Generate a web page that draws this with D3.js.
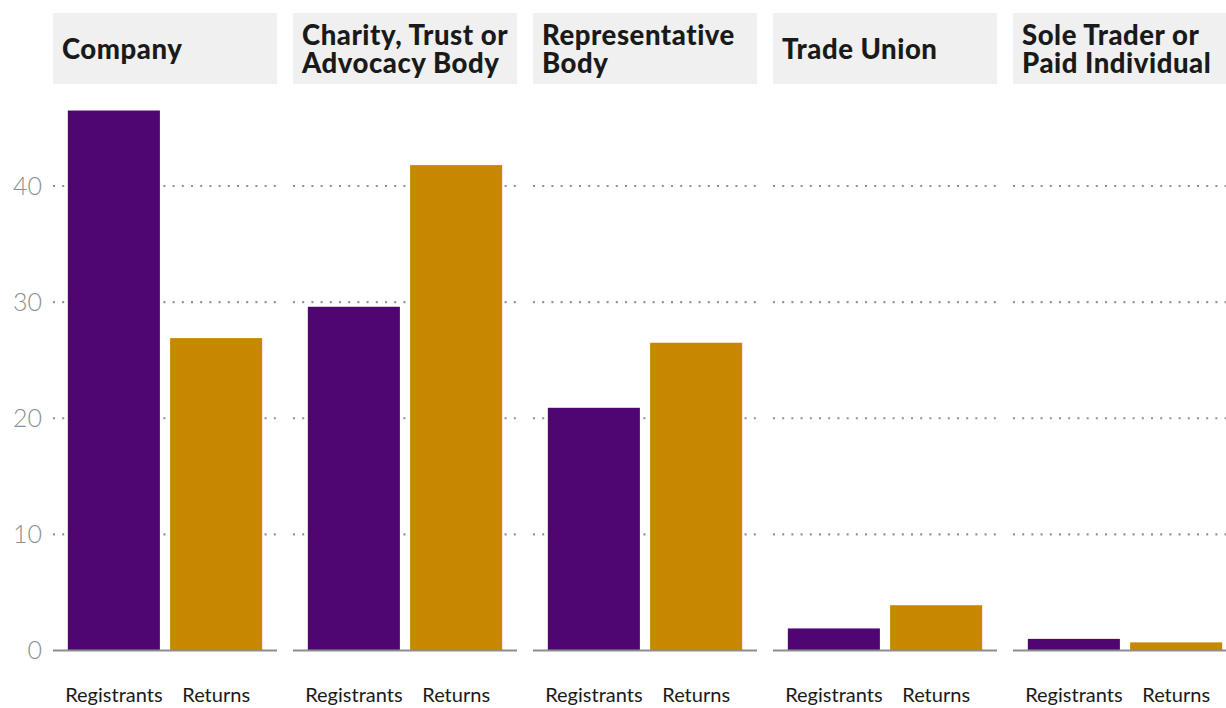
<!DOCTYPE html>
<html>
<head>
<meta charset="utf-8">
<script src="https://cdn.jsdelivr.net/npm/d3@7"></script>
<style>
  html, body { margin: 0; padding: 0; background: #fff; }
  svg { display: block; }
</style>
</head>
<body>
<svg id="chart" width="1226" height="708"></svg>
<script>
const facets = [
  ["Company"],
  ["Charity, Trust or", "Advocacy Body"],
  ["Representative", "Body"],
  ["Trade Union"],
  ["Sole Trader or", "Paid Individual"]
];
const measures = ["Registrants", "Returns"];
const registrants = [46.5, 29.6, 20.9, 1.9, 1.0];
const returns = [26.9, 41.8, 26.5, 3.9, 0.7];
const yTicks = [0, 10, 20, 30, 40];
const colors = ["#4f0672", "#c78700"];

const svg = d3.select("#chart");
const panelW = 224, panelStep = 240, left = 53;
const headerTop = 13, headerH = 71;

const y = d3.scaleLinear().domain([0, 40]).range([650.5, 186]);
const x = d3.scaleBand().domain(measures).range([0, panelW]).paddingInner(0.1).paddingOuter(0.145);

// y-axis tick labels
const yAxis = svg.append("g").attr("transform", `translate(${left - 11},0)`)
  .call(d3.axisLeft(y).tickValues(yTicks).tickSize(0).tickPadding(0).tickFormat(d3.format("d")));
yAxis.select(".domain").remove();
yAxis.selectAll("text")
  .attr("fill", "#8a8f8f")
  .style("font-family", "Lato, 'Open Sans', sans-serif")
  .style("font-size", "25px")
  .style("font-weight", "300");

facets.forEach((lines, i) => {
  const g = svg.append("g").attr("transform", `translate(${left + i * panelStep},0)`);
  const vals = [registrants[i], returns[i]];

  // header strip
  g.append("rect").attr("x", 0).attr("y", headerTop).attr("width", panelW).attr("height", headerH).attr("fill", "#f0f0f0");
  const t = g.append("text")
    .attr("x", 9)
    .style("font-family", "Lato, sans-serif")
    .style("font-weight", "900")
    .style("font-size", "27.5px")
    .style("letter-spacing", "0.55px")
    .attr("fill", "#1a1a1a");
  const lh = 28;
  const cy = headerTop + headerH / 2;
  lines.forEach((ln, k) => {
    t.append("tspan").attr("x", 9)
      .attr("y", cy + (k - (lines.length - 1) / 2) * lh + 10)
      .text(ln);
  });

  // dotted gridlines
  g.selectAll("line.grid").data(yTicks.filter(d => d > 0)).join("line")
    .attr("class", "grid")
    .attr("x1", 0).attr("x2", panelW)
    .attr("y1", d => y(d)).attr("y2", d => y(d))
    .attr("stroke", "#8f9393").attr("stroke-width", 2.2)
    .attr("stroke-dasharray", "2,7.2");

  // bars
  g.selectAll("rect.bar").data(measures).join("rect")
    .attr("class", "bar")
    .attr("x", d => x(d))
    .attr("width", x.bandwidth())
    .attr("y", (d, j) => y(vals[j]))
    .attr("height", (d, j) => y(0) - y(vals[j]))
    .attr("fill", (d, j) => colors[j]);

  // baseline
  g.append("line").attr("x1", 0).attr("x2", panelW)
    .attr("y1", y(0)).attr("y2", y(0))
    .attr("stroke", "#8a8e8e").attr("stroke-width", 2);

  // x labels
  const xa = g.append("g").attr("transform", `translate(0,${y(0) + 37})`)
    .call(d3.axisBottom(x).tickSize(0).tickPadding(0));
  xa.select(".domain").remove();
  xa.selectAll("text")
    .attr("fill", "#1a1a1a")
    .attr("dy", "0.71em")
    .style("font-family", "Lato, sans-serif")
    .style("font-size", "20px")
    .style("font-weight", "400");
});
</script>
</body>
</html>
